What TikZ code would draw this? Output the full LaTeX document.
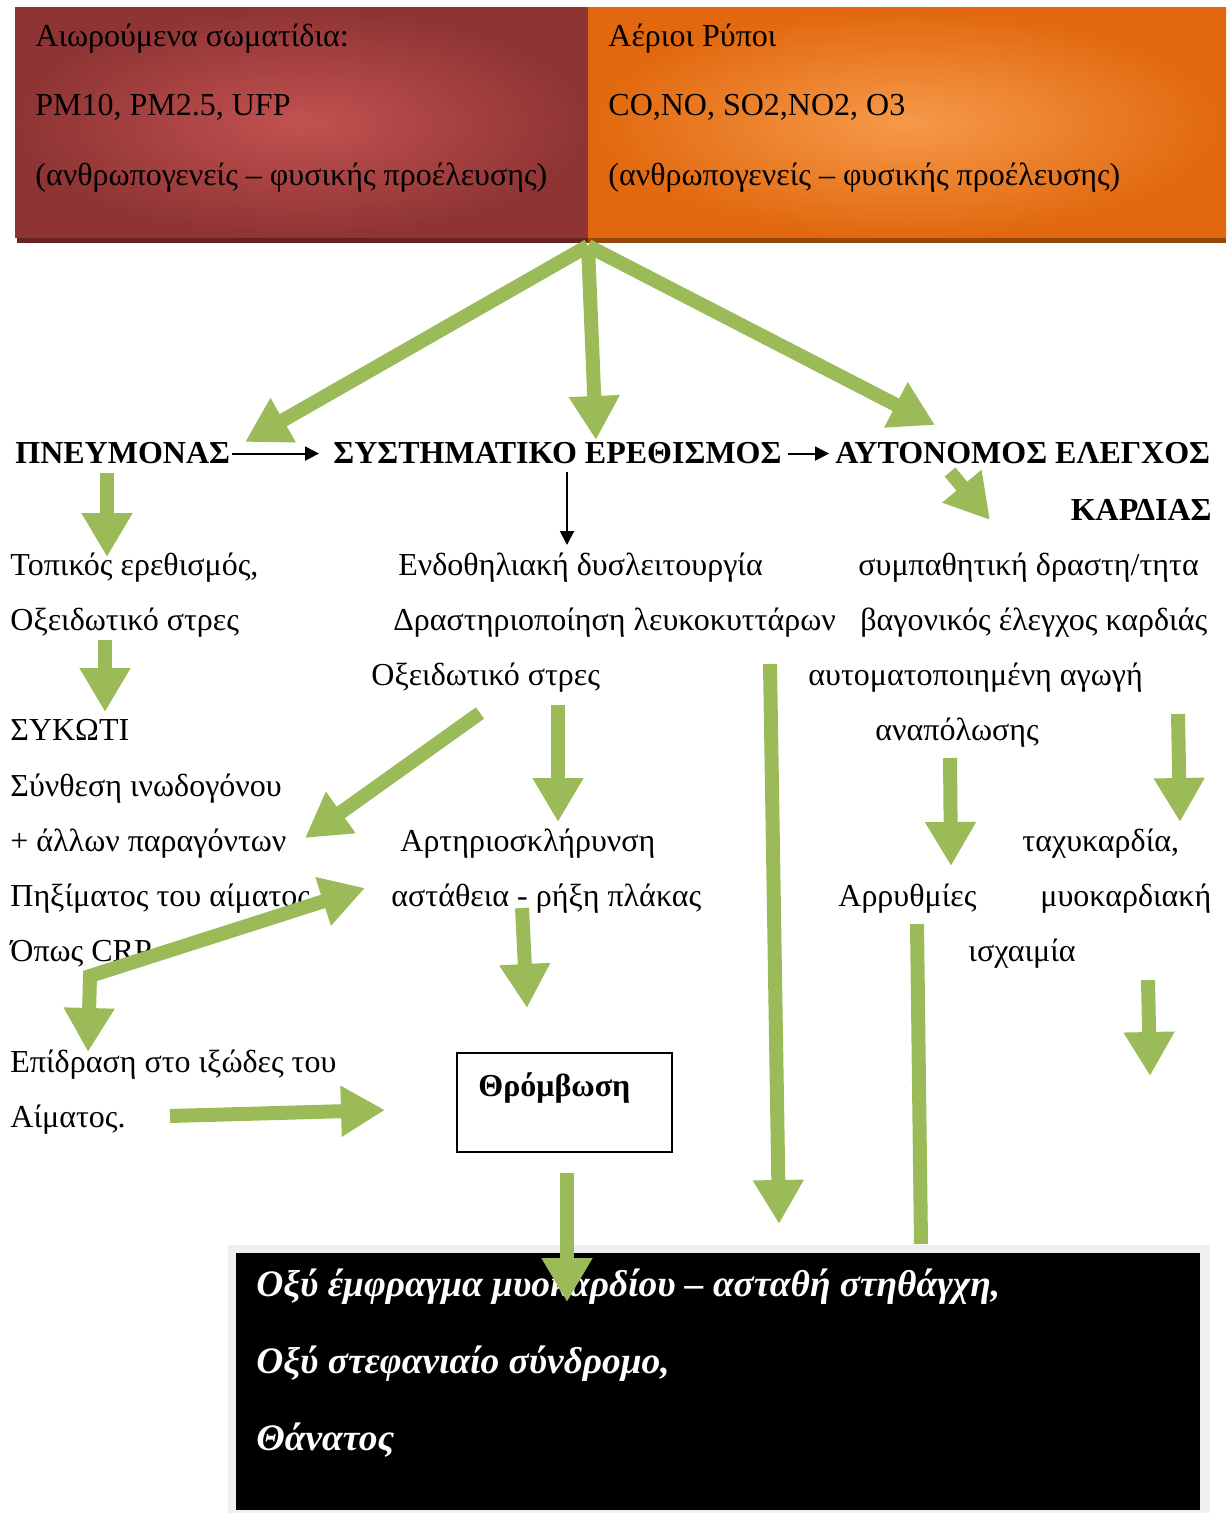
\documentclass[tikz,border=0pt]{standalone}
\usepackage{fontspec}
\setmainfont{Liberation Serif}
\usetikzlibrary{arrows.meta}

\definecolor{pmdark}{RGB}{142,52,52}
\definecolor{pmlight}{RGB}{194,82,80}
\definecolor{pmshadow}{RGB}{104,34,34}
\definecolor{gasdark}{RGB}{225,104,14}
\definecolor{gaslight}{RGB}{246,154,74}
\definecolor{gasshadow}{RGB}{150,72,8}
\definecolor{arrowgreen}{RGB}{155,187,89}

\tikzset{
  txt/.style={anchor=base west,inner sep=0pt,font=\fontsize{16}{19}\selectfont},
  headtxt/.style={txt,font=\fontsize{16}{19}\selectfont\bfseries},
  outcome/.style={txt,text=white,font=\fontsize{18.7}{22}\selectfont\bfseries\itshape},
  garrow/.style={draw=arrowgreen,line width=7pt,-{Triangle[width=24pt,length=22pt]}},
  gline/.style={draw=arrowgreen,line width=7pt},
  karrow/.style={draw=black,line width=1pt,-{Triangle[width=7pt,length=7pt]}}
}

\begin{document}
\begin{tikzpicture}[x=0.5pt,y=-0.5pt]
\useasboundingbox (0,0) rectangle (1226,1513);

% pollutant boxes
\fill[pmshadow] (17,236) rectangle (588,243);
\fill[gasshadow] (588,236) rectangle (1226,243);
\shade[inner color=pmlight,outer color=pmdark] (15,8) rectangle (588,238);
\shade[inner color=gaslight,outer color=gasdark] (588,8) rectangle (1226,238);
\coordinate (src) at (588,246);

\node[txt] (pm1) at (35,47) {Αιωρούμενα σωματίδια:};
\node[txt] (pm2) at (35,116) {PM10, PM2.5, UFP};
\node[txt] (pm3) at (35,186) {(ανθρωπογενείς – φυσικής προέλευσης)};
\node[txt] (gas1) at (608,47) {Αέριοι Ρύποι};
\node[txt] (gas2) at (608,116) {CO,NO, SO2,NO2, O3};
\node[txt] (gas3) at (608,186) {(ανθρωπογενείς – φυσικής προέλευσης)};

% main row
\node[headtxt] (lung) at (15,464) {ΠΝΕΥΜΟΝΑΣ};
\node[headtxt] (sys) at (333,464) {ΣΥΣΤΗΜΑΤΙΚΟ ΕΡΕΘΙΣΜΟΣ};
\node[headtxt] (auto) at (835,464) {ΑΥΤΟΝΟΜΟΣ ΕΛΕΓΧΟΣ};
\node[headtxt,anchor=base east] (heart) at (1212,520) {ΚΑΡΔΙΑΣ};

% lung column
\node[txt] (loc1) at (10,575) {Τοπικός ερεθισμός,};
\node[txt] (loc2) at (10,630) {Οξειδωτικό στρες};
\node[txt] (liver) at (10,740) {ΣΥΚΩΤΙ};
\node[txt] (liv1) at (10,796) {Σύνθεση ινωδογόνου};
\node[txt] (liv2) at (10,851) {+ άλλων παραγόντων};
\node[txt] (liv3) at (10,906) {Πηξίματος του αίματος};
\node[txt] (liv4) at (10,961) {Όπως CRP};
\node[txt] (visc1) at (10,1072) {Επίδραση στο ιξώδες του};
\node[txt] (visc2) at (10,1127) {Αίματος.};

% systemic column
\node[txt] (endo) at (398,575) {Ενδοθηλιακή δυσλειτουργία};
\node[txt] (leuk) at (393,630) {Δραστηριοποίηση λευκοκυττάρων};
\node[txt] (ox) at (371,685) {Οξειδωτικό στρες};
\node[txt] (ath1) at (400,851) {Αρτηριοσκλήρυνση};
\node[txt] (ath2) at (391,906) {αστάθεια - ρήξη πλάκας};
\draw[line width=1pt] (457,1053) rectangle (672,1152);
\node[headtxt] (thromb) at (478,1096) {Θρόμβωση};

% autonomic column
\node[txt] (ans1) at (858,575) {συμπαθητική δραστη/τητα};
\node[txt] (ans2) at (860,630) {βαγονικός έλεγχος καρδιάς};
\node[txt] (ans3) at (808,685) {αυτοματοποιημένη αγωγή};
\node[txt] (ans4) at (875,740) {αναπόλωσης};
\node[txt] (tach1) at (1022,851) {ταχυκαρδία,};
\node[txt] (arr) at (838,906) {Αρρυθμίες};
\node[txt] (tach2) at (1040,906) {μυοκαρδιακή};
\node[txt] (tach3) at (968,961) {ισχαιμία};

% outcome box
\fill[gray!12] (228,1245) rectangle (1210,1513);
\fill[black] (236,1253) rectangle (1200,1510);
\node[outcome] (out1) at (256,1296) {Οξύ έμφραγμα μυοκαρδίου – ασταθή στηθάγχη,};
\node[outcome] (out2) at (256,1373) {Οξύ στεφανιαίο σύνδρομο,};
\node[outcome] (out3) at (256,1450) {Θάνατος};

% thin black arrows
\draw[karrow] ([xshift=1pt]lung.east) -- ([xshift=-7pt]sys.west);
\draw[karrow] ([xshift=3pt]sys.east) -- ([xshift=-3pt]auto.west);
\draw[karrow] (567,472) -- (567,545);

% green arrows
\draw[garrow] (src) -- (245,442);
\draw[garrow] (src) -- (596,440);
\draw[garrow] (src) -- (935,425);
\draw[garrow] (107,473) -- (107,557);
\draw[garrow] (950,472) -- (990,520);
\draw[garrow] (105,640) -- (105,712);
\draw[garrow] (480,713) -- (305,838);
\draw[garrow] (558,705) -- (558,822);
\draw[garrow,{Triangle[width=24pt,length=22pt]}-{Triangle[width=24pt,length=22pt]}] (88,1052) -- (90,976) -- (365,888);
\draw[garrow] (522,908) -- (527,1008);
\draw[garrow] (170,1116) -- (385,1110);
\draw[garrow] (567,1173) -- (567,1302);
\draw[garrow] (770,664) -- (779,1224);
\draw[gline] (917,924) -- (921,1244);
\draw[garrow] (950,758) -- (951,866);
\draw[garrow] (1178,714) -- (1180,822);
\draw[garrow] (1148,980) -- (1150,1076);
\end{tikzpicture}
\end{document}
